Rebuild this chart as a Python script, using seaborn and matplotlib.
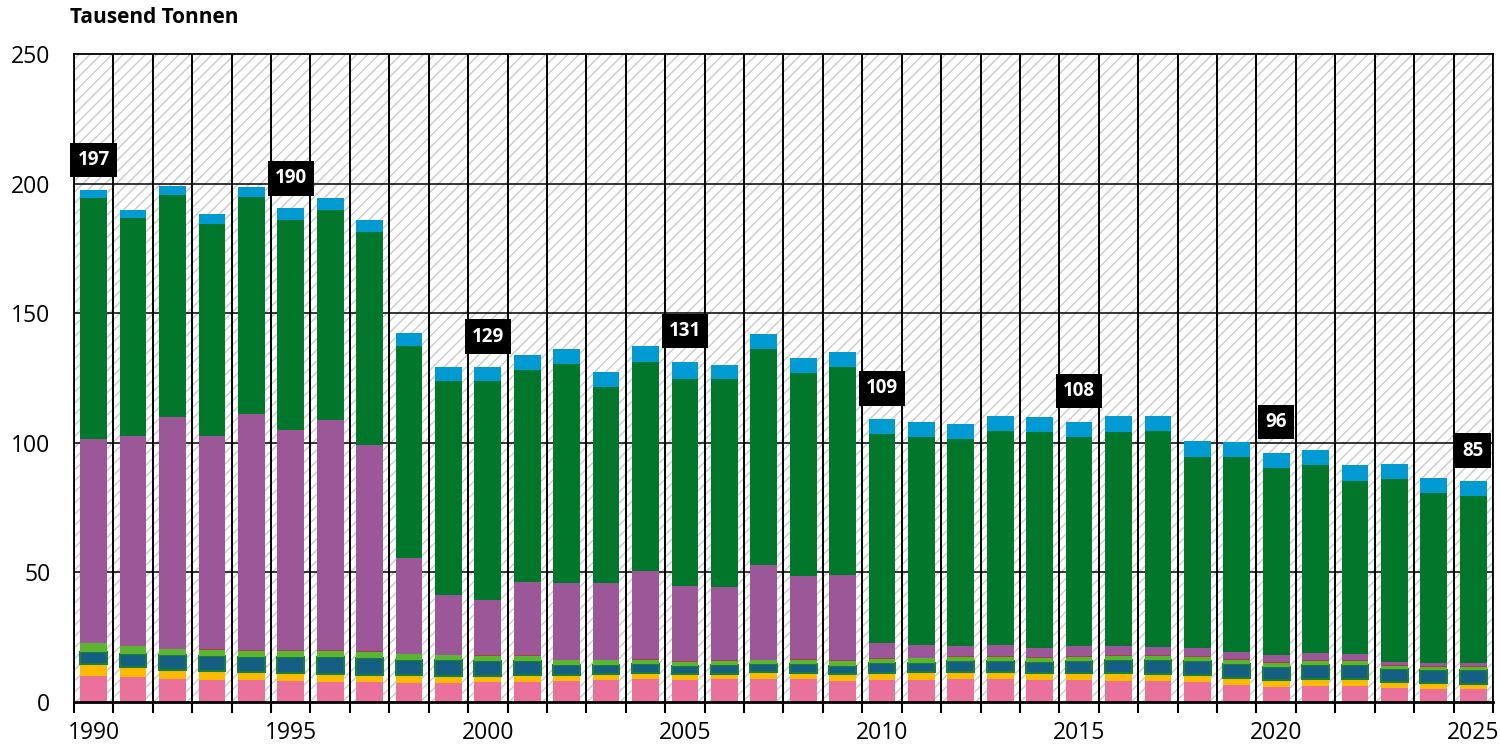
import numpy as np
import pandas as pd
import matplotlib
matplotlib.use("Agg")
import matplotlib.pyplot as plt
from matplotlib.patches import Rectangle
import seaborn as sns

years = np.arange(1990, 2026)

# stacked components, bottom to top (Tausend Tonnen)
pink = [10.0, 9.6, 9.0, 8.6, 8.5, 8.1, 7.8, 7.6, 7.5, 7.2,
        7.6, 7.9, 8.0, 8.4, 8.8, 8.5, 8.7, 9.0, 8.8, 8.3,
        8.5, 8.6, 9.0, 8.8, 8.5, 8.4, 8.2, 8.0, 7.7, 6.6,
        5.7, 6.2, 6.3, 5.4, 5.1, 4.9]
yellow = [4.7, 3.9, 3.5, 3.4, 3.2, 3.1, 3.1, 2.9, 2.8, 2.8,
          2.5, 2.5, 2.4, 2.4, 2.4, 2.3, 2.2, 2.6, 2.5, 2.4,
          2.8, 3.0, 2.7, 2.7, 2.7, 2.8, 3.0, 2.9, 2.7, 2.7,
          2.8, 2.8, 2.7, 2.3, 2.2, 2.0]
blue = [4.5, 5.0, 5.5, 5.7, 5.8, 6.2, 6.4, 6.4, 6.0, 6.2,
        5.8, 5.4, 3.7, 3.4, 3.3, 3.1, 3.3, 2.9, 3.4, 3.3,
        3.6, 3.6, 4.1, 4.3, 4.2, 4.7, 5.0, 5.3, 5.5, 5.4,
        5.0, 5.3, 5.3, 5.0, 4.9, 5.3]
lgreen = [3.4, 3.0, 2.3, 2.5, 2.2, 2.3, 2.3, 2.3, 2.1, 1.8,
          2.0, 2.1, 2.0, 1.9, 1.7, 1.7, 1.8, 1.6, 1.7, 1.8,
          1.7, 1.6, 1.7, 1.7, 1.7, 1.6, 1.7, 1.7, 1.6, 1.5,
          1.5, 1.5, 1.5, 1.3, 1.4, 1.4]
red = [0.3, 0.3, 0.3, 0.3, 0.3, 0.3, 0.3, 0.3, 0.3, 0.3,
       0.3, 0.3, 0.3, 0.3, 0.3, 0.3, 0.3, 0.3, 0.3, 0.3,
       0.3, 0.3, 0.3, 0.3, 0.3, 0.3, 0.3, 0.3, 0.3, 0.3,
       0.3, 0.3, 0.3, 0.3, 0.3, 0.3]
purple = [78.7, 80.8, 89.2, 82.1, 91.2, 84.8, 88.9, 79.8, 36.8, 22.9,
          21.3, 28.1, 29.4, 29.5, 34.0, 28.9, 27.9, 36.3, 32.0, 33.0,
          6.0, 4.9, 3.7, 4.1, 3.6, 3.8, 3.4, 3.1, 3.2, 2.9,
          2.8, 2.7, 2.5, 1.3, 1.1, 1.1]
green = [92.8, 84.0, 85.8, 81.8, 83.8, 81.2, 81.1, 81.9, 81.8, 82.6,
         84.2, 81.8, 84.6, 75.6, 80.7, 80.0, 80.3, 83.6, 78.2, 80.1,
         80.4, 80.4, 79.8, 82.6, 83.3, 80.6, 82.7, 83.1, 73.7, 75.1,
         72.2, 72.5, 66.8, 70.4, 65.6, 64.4]
lblue = [3.0, 3.2, 3.6, 3.7, 3.8, 4.4, 4.5, 4.6, 5.1, 5.3,
         5.7, 5.8, 5.9, 5.9, 6.1, 6.4, 5.5, 5.7, 5.7, 5.7,
         5.8, 5.8, 6.0, 5.8, 5.8, 5.8, 5.9, 5.9, 6.0, 5.9,
         5.9, 5.9, 5.9, 5.9, 5.9, 5.9]

label_years = [1990, 1995, 2000, 2005, 2010, 2015, 2020, 2025]
label_vals = [197, 190, 129, 131, 109, 108, 96, 85]

colors = {
    "lblue": "#009BD3",
    "green": "#00772B",
    "purple": "#9C5799",
    "red": "#A8413F",
    "lgreen": "#5CB531",
    "blue": "#155E84",
    "yellow": "#FDBB00",
    "pink": "#EA719B",
}
# top of stack first: seaborn puts the last hue level at the bottom
order = ["lblue", "green", "purple", "red", "lgreen", "blue", "yellow", "pink"]

df = pd.DataFrame({"year": years, "pink": pink, "yellow": yellow, "blue": blue,
                   "lgreen": lgreen, "red": red, "purple": purple,
                   "green": green, "lblue": lblue})
long = df.melt(id_vars="year", var_name="component", value_name="value")

sns.set_theme(style="white")
plt.rcParams['font.family'] = ['Open Sans', 'DejaVu Sans']

fig = plt.figure(figsize=(15, 7.47), dpi=100)
ax = fig.add_axes([0.0493, 0.0602, 0.946, 0.8675])

sns.histplot(data=long, x="year", weights="value", hue="component",
             hue_order=order, palette=colors, multiple="stack",
             discrete=True, shrink=0.68, alpha=1, linewidth=0,
             legend=False, ax=ax, zorder=3)

# dark blue segment has a green outline
for p in ax.patches:
    if np.allclose(p.get_facecolor()[:3], matplotlib.colors.to_rgb(colors["blue"]), atol=0.01):
        p.set_edgecolor("#17813A")
        p.set_linewidth(1.5)

# hatched background
plt.rcParams['hatch.linewidth'] = 1.0
ax.add_patch(Rectangle((0, 0), 1, 1, transform=ax.transAxes, facecolor="white",
                       edgecolor="#CACACA", hatch="///", linewidth=0, zorder=0))

bounds = np.append(years - 0.5, years[-1] + 0.5)
ax.vlines(bounds, 0, 250, color="black", linewidth=1.4, zorder=1)
for yv in [50, 100, 150, 200]:
    ax.axhline(yv, color="black", linewidth=1.1, zorder=1)

ax.set_xlim(bounds[0], bounds[-1])
ax.set_ylim(0, 250)
ax.set_yticks([0, 50, 100, 150, 200, 250])
ax.set_xticks(label_years)
ax.set_xticks(bounds, minor=True)
ax.tick_params(axis="x", which="major", length=0, pad=14, labelsize=16.5, colors="black")
ax.tick_params(axis="x", which="minor", length=8, width=1.5, direction="out",
               color="black", bottom=True)
ax.tick_params(axis="y", length=0, pad=17, labelsize=16.5, colors="black")
ax.set_xlabel("")
ax.set_ylabel("")

for s in ["left", "top", "right"]:
    ax.spines[s].set_color("black")
    ax.spines[s].set_linewidth(1.3)
ax.spines["bottom"].set_color("black")
ax.spines["bottom"].set_linewidth(2)
for s in ax.spines.values():
    s.set_zorder(5)

for yr, val in zip(label_years, label_vals):
    ax.text(yr, val + 12, str(val), ha="center", va="center", color="white",
            fontsize=13.5, fontweight="bold", zorder=6,
            bbox=dict(boxstyle="square,pad=0.38", facecolor="black", edgecolor="none"))

fig.text(0.0467, 0.976, "Tausend Tonnen", fontsize=15, fontweight="bold",
         ha="left", va="center", color="black")

fig.savefig("out.png", dpi=100)
